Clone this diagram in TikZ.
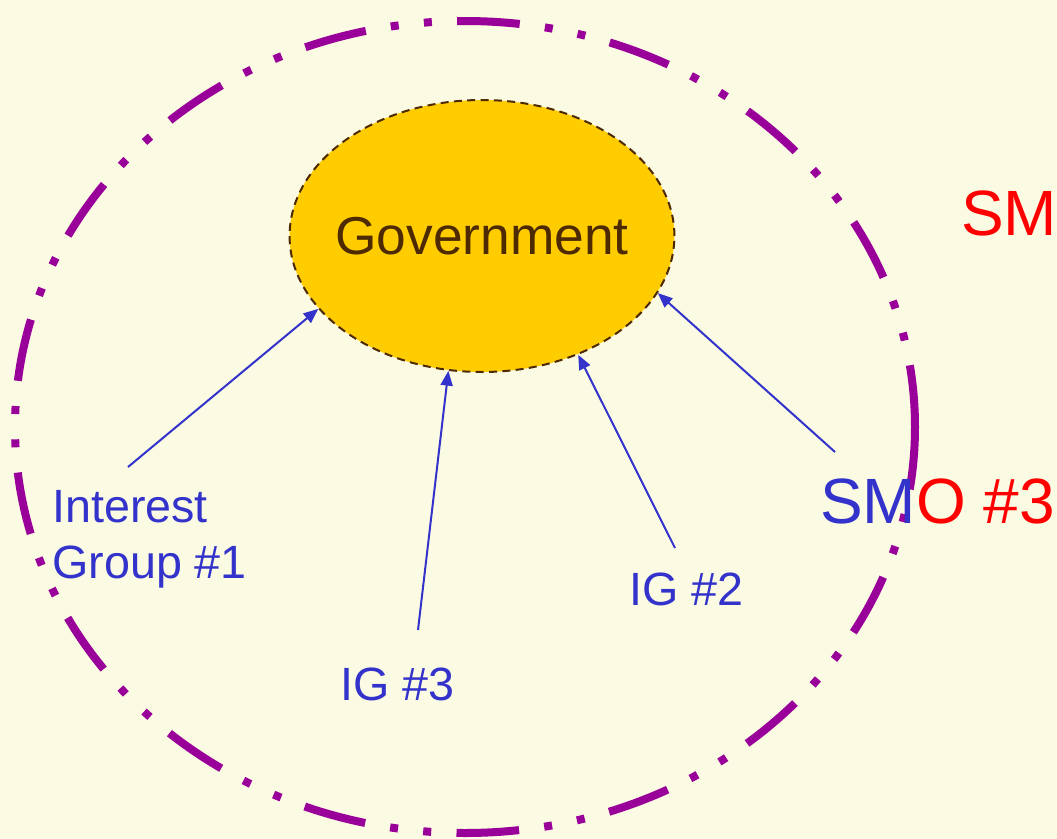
\documentclass[tikz,border=0pt]{standalone}
\usepackage{fontspec}
\setmainfont{Liberation Sans}
\usetikzlibrary{arrows.meta,calc,positioning,shapes.geometric}
\definecolor{PaperCream}{RGB}{251,250,227}
\definecolor{GovGold}{RGB}{255,204,0}
\definecolor{GovBrown}{RGB}{77,42,0}
\definecolor{IGBlue}{RGB}{51,51,204}
\definecolor{SMORed}{RGB}{255,0,0}
\definecolor{FieldPurple}{RGB}{153,0,153}

\begin{document}
\begin{tikzpicture}[x=0.75pt,y=-0.75pt,>={Triangle[length=11pt,width=9pt]},
  grp/.style={text=IGBlue,inner sep=0pt,font=\fontsize{35}{42}\selectfont},
  smo/.style={inner sep=0pt,anchor=base west,font=\fontsize{48}{58}\selectfont},
  push/.style={->,IGBlue,line width=1.5pt}]
\fill[PaperCream] (0,0) rectangle (1057,839);
\clip (0,0) rectangle (1057,839);
% the political field
\draw[FieldPurple,line width=6pt,dash pattern=on 47pt off 19pt on 6pt off 19pt on 6pt off 19pt] (465,427) ellipse [x radius=450,y radius=406];
\node[ellipse,draw=GovBrown,line width=1.5pt,dash pattern=on 6pt off 4pt,fill=GovGold,minimum width=288pt,minimum height=204pt,inner xsep=-8pt,inner ysep=0pt,text=GovBrown,font=\fontsize{40}{48}\selectfont] (gov) at (482,236) {Government};
% groups
\node[grp,align=left,anchor=north west] (ig1) at (52,490) {Interest\\Group \#1};
\node[grp,anchor=base west] (ig3) at (340,700) {IG \#3};
\node[grp,anchor=base west] (ig2) at (629,605) {IG \#2};
\node[smo] (smo3) at (820,523) {\textcolor{IGBlue}{SM}\textcolor{SMORed}{O \#3}};
\node[smo,text=SMORed] (smo) at (961,235) {SM};
\coordinate (ig1 tail) at (128,467);
\coordinate (ig3 tail) at (418,630);
\coordinate (ig2 tail) at (675,548);
\coordinate (smo3 tail) at (835,452);
\draw[push] (ig1 tail) -- (gov.204.8);
\draw[push] (ig3 tail) -- (gov.256.8);
\draw[push] (ig2 tail) -- (gov.309);
\draw[push] (smo3 tail) -- (gov.342.2);
\end{tikzpicture}
\end{document}
